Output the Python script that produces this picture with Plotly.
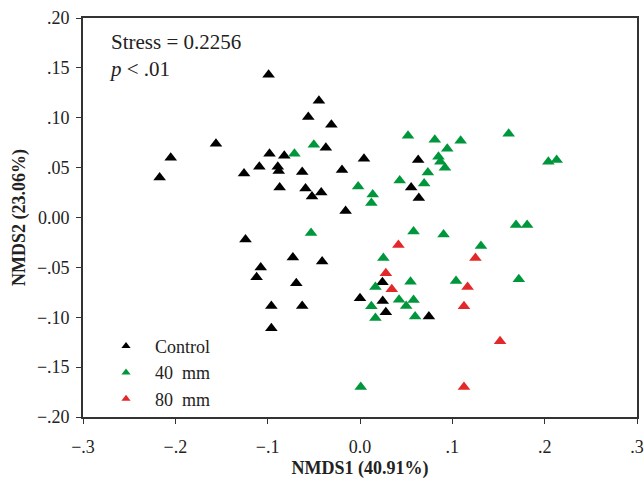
import plotly.graph_objects as go

control_x = [-0.099, -0.0445, -0.056, -0.031, -0.156, -0.037, -0.098, -0.082, -0.205, -0.109,
             -0.089, -0.088, -0.0626, -0.0195, -0.1256, -0.217, -0.087, -0.059, -0.052, -0.042,
             -0.0156, 0.0043, 0.063, 0.0554, 0.0637, -0.124, -0.0727, -0.041, -0.1075, -0.112,
             -0.069, -0.096, -0.0626, -0.096, 0.0, 0.0243, 0.0246, 0.028, 0.0746]
control_y = [0.143, 0.117, 0.1007, 0.093, 0.074, 0.070, 0.064, 0.062, 0.060, 0.051,
             0.051, 0.0465, 0.0455, 0.0475, 0.044, 0.040, 0.030, 0.029, 0.021, 0.025,
             0.0064, 0.059, 0.0576, 0.030, 0.0195, -0.022, -0.040, -0.044, -0.050, -0.060,
             -0.066, -0.0886, -0.0886, -0.111, -0.081, -0.065, -0.0838, -0.095, -0.0993]

mm40_x = [-0.050, -0.071, -0.002, 0.052, 0.081, 0.109, 0.161, 0.0945, 0.085, 0.087,
          0.092, 0.204, 0.213, 0.0735, 0.043, 0.0695, 0.0138, 0.0123, -0.053, 0.0008,
          0.058, 0.0905, 0.131, 0.169, 0.181, 0.0253, 0.0167, 0.0547, 0.104, 0.172,
          0.0423, 0.058, 0.05, 0.0123, 0.0167, 0.0597]
mm40_y = [0.073, 0.064, 0.031, 0.082, 0.078, 0.077, 0.084, 0.069, 0.061, 0.056,
          0.050, 0.056, 0.0576, 0.045, 0.037, 0.034, 0.023, 0.0145, -0.0155, -0.170,
          -0.014, -0.017, -0.0286, -0.0074, -0.0074, -0.0407, -0.0697, -0.0643, -0.0636, -0.062,
          -0.0825, -0.0828, -0.0886, -0.0889, -0.1007, -0.0993]

mm80_x = [0.0416, 0.125, 0.028, 0.0344, 0.1165, 0.1126, 0.1517, 0.1126]
mm80_y = [-0.0276, -0.0407, -0.056, -0.072, -0.0697, -0.0889, -0.124, -0.170]

x_ticks = [-0.3, -0.2, -0.1, 0.0, 0.1, 0.2, 0.3]
x_ticktext = ["\u2212.3", "\u2212.2", "\u2212.1", "0.0", ".1", ".2", ".3"]
y_ticks = [0.20, 0.15, 0.10, 0.05, 0.0, -0.05, -0.10, -0.15, -0.20]
y_ticktext = [".20", ".15", ".10", ".05", "0.00", "\u2212.05", "\u2212.10", "\u2212.15", "\u2212.20"]

font_family = "Liberation Serif"
text_color = "#222"

series = [("Control", control_x, control_y, "#000000"),
          ("40\u00a0\u00a0mm", mm40_x, mm40_y, "#00963c"),
          ("80\u00a0\u00a0mm", mm80_x, mm80_y, "#e3282a")]

fig = go.Figure()
for name, xs, ys, color in series:
    fig.add_trace(go.Scatter(x=xs, y=ys, mode="markers", name=name, showlegend=False,
                             marker=dict(symbol="triangle-up", size=11, color=color,
                                         line=dict(width=0))))
# legend entries with smaller symbols, as in the reference
for name, xs, ys, color in series:
    fig.add_trace(go.Scatter(x=[None], y=[None], mode="markers", name=name, showlegend=True,
                             marker=dict(symbol="triangle-up", size=8, color=color,
                                         line=dict(width=0))))

axis_common = dict(showgrid=False, zeroline=False, showline=True, linecolor="#333",
                   linewidth=1.6, mirror=True, ticks="outside", ticklen=5, tickwidth=1.3,
                   tickcolor="#333", tickfont=dict(family=font_family, size=18, color=text_color),
                   automargin=False)

fig.update_xaxes(range=[-0.3, 0.3], tickvals=x_ticks, ticktext=x_ticktext, ticklabelstandoff=8,
                 title=dict(text="<b>NMDS1 (40.91%)</b>",
                            font=dict(family=font_family, size=18, color=text_color), standoff=9),
                 **axis_common)
fig.update_yaxes(range=[-0.2, 0.2], tickvals=y_ticks, ticktext=y_ticktext, ticklabelstandoff=3,
                 title=dict(text="<b>NMDS2 (23.06%)</b>",
                            font=dict(family=font_family, size=18, color=text_color), standoff=7),
                 **axis_common)

fig.add_annotation(xref="paper", yref="paper", x=0.043, y=0.975, xanchor="left", yanchor="top",
                   text="Stress = 0.2256<br><i>p</i> < .01", showarrow=False, align="left",
                   font=dict(family=font_family, size=21, color=text_color))

fig.update_layout(
    width=644, height=479,
    margin=dict(l=83, r=7, t=18, b=62, autoexpand=False),
    plot_bgcolor="white", paper_bgcolor="white",
    showlegend=True,
    legend=dict(x=0.0253, y=-0.002, xanchor="left", yanchor="bottom",
                bgcolor="rgba(255,255,255,0)", tracegroupgap=0, itemwidth=48,
                font=dict(family=font_family, size=18, color=text_color)),
)

fig.write_html("out.html")
